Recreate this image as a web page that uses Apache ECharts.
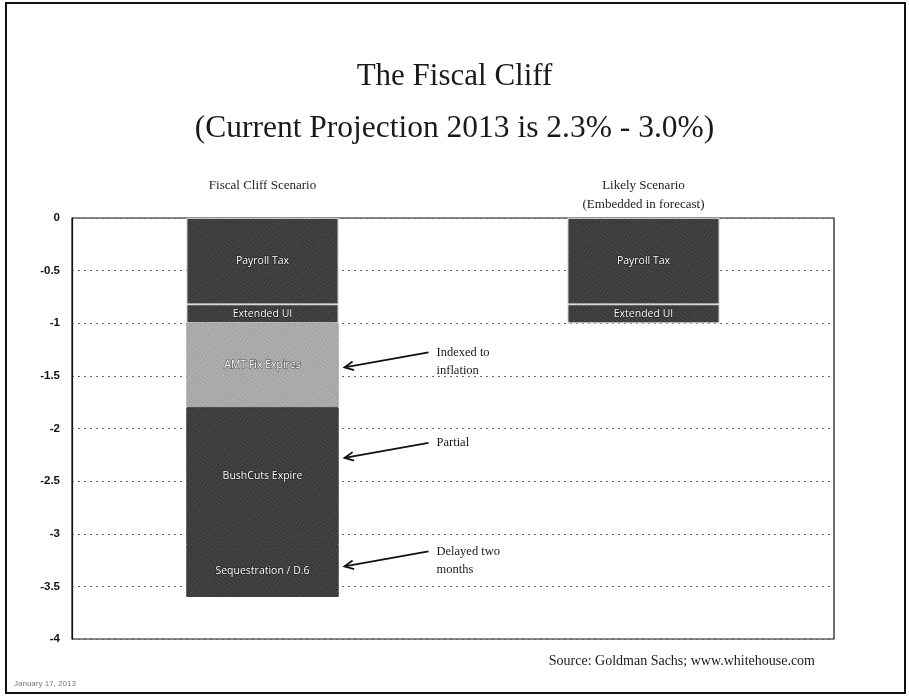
<!DOCTYPE html>
<html><head><meta charset="utf-8">
<script src="https://cdn.jsdelivr.net/npm/echarts@6/dist/echarts.min.js"></script>
<style>html,body{margin:0;padding:0;background:#fff}#c{width:909px;height:697px}</style>
</head><body><div id="c"></div>
<script>
const categories = ['Fiscal Cliff Scenario', 'Likely Scenario\n(Embedded in forecast)'];
const payrollTax = [-0.82, -0.82];
const extendedUI = [-0.18, -0.18];
const amtFix = [-0.8, null];
const bushCuts = [-1.3, null];
const sequestration = [-0.5, null];
const yTicks = [0, -0.5, -1, -1.5, -2, -2.5, -3, -3.5, -4];
const notes = ['Indexed to\ninflation', 'Partial', 'Delayed two\nmonths'];
const noteValues = [-1.42, -2.28, -3.31];

const chart = echarts.init(document.getElementById('c'));
const dark = '#3b3b3b', light = '#a6a6a6';
function seg(name, data, color, borderColor) {
  return {
    name, type: 'bar', stack: 'all', data, barWidth: 152,
    itemStyle: { color, borderColor, borderWidth: 0.8,
      decal: { symbol: 'rect', symbolSize: 1, dashArrayX: [1, 2], dashArrayY: [1, 2], rotation: 0.6,
        color: color === light ? 'rgba(255,255,255,0.35)' : 'rgba(150,150,150,0.35)' } },
    label: { show: true, position: 'inside', formatter: p => p.value == null ? '' : name,
      color: '#fff', fontFamily: 'Open Sans', fontSize: 10.5,
      textBorderColor: 'rgba(0,0,0,0.5)', textBorderWidth: 1.2 }
  };
}
chart.setOption({
  animation: false,
  aria: { enabled: false, decal: { show: true } },
  title: [
    { text: 'The Fiscal Cliff', left: 'center', top: 56,
      textStyle: { fontFamily: 'Liberation Serif', fontWeight: 'normal', fontSize: 31, color: '#1a1a1a' } },
    { text: '(Current Projection 2013 is 2.3% - 3.0%)', left: 'center', top: 108,
      textStyle: { fontFamily: 'Liberation Serif', fontWeight: 'normal', fontSize: 31.5, color: '#1a1a1a' } }
  ],
  grid: { left: 72, right: 75, top: 218, bottom: 58, show: true, borderColor: '#111', borderWidth: 1.2 },
  xAxis: {
    type: 'category', data: categories, position: 'top',
    axisLine: { show: false }, axisTick: { show: false },
    axisLabel: { margin: 42, verticalAlign: 'top', fontFamily: 'Liberation Serif', fontSize: 13, lineHeight: 19, color: '#222' }
  },
  yAxis: {
    type: 'value', min: -4, max: 0, interval: 0.5,
    axisLine: { show: true, lineStyle: { color: '#111', width: 1.2 } },
    axisTick: { show: false },
    axisLabel: { margin: 12, fontFamily: 'Liberation Sans', fontWeight: 'bold', fontSize: 11.5, color: '#111',
      formatter: v => (yTicks.indexOf(v) >= 0 ? String(v) : '') },
    splitLine: { show: true, lineStyle: { color: '#666', type: [2, 4], width: 1 } }
  },
  series: [
    seg('Payroll Tax', payrollTax, dark, 'rgba(225,225,225,0.8)'),
    seg('Extended UI', extendedUI, dark, 'rgba(225,225,225,0.8)'),
    seg('AMT Fix Expires', amtFix, light, light),
    seg('BushCuts Expire', bushCuts, dark, dark),
    seg('Sequestration / D.6', sequestration, dark, dark)
  ],
  graphic: []
});

const g = [];
g.push({ type: 'rect', shape: { x: 6, y: 3, width: 899, height: 690 }, style: { fill: 'none', stroke: '#111', lineWidth: 2 }, silent: true });
const barRight = chart.convertToPixel({ xAxisIndex: 0 }, 0) + 76;
notes.forEach((t, i) => {
  const ty = chart.convertToPixel({ yAxisIndex: 0 }, noteValues[i]);
  const tipX = barRight + 6, sx = barRight + 90, sy = ty - 15;
  g.push({ type: 'line', shape: { x1: sx, y1: sy, x2: tipX, y2: ty }, style: { stroke: '#111', lineWidth: 1.8 } });
  const ang = Math.atan2(sy - ty, sx - tipX);
  const L = 10, a = 0.45;
  g.push({ type: 'polyline', shape: { points: [
    [tipX + L * Math.cos(ang - a), ty + L * Math.sin(ang - a)], [tipX, ty],
    [tipX + L * Math.cos(ang + a), ty + L * Math.sin(ang + a)]] },
    style: { stroke: '#111', lineWidth: 1.8, fill: 'none' } });
  g.push({ type: 'text', x: sx + 8, y: sy - 9, style: { text: t, fontFamily: 'Liberation Serif', fontSize: 12.5, lineHeight: 18, fill: '#1a1a1a' } });
});
g.push({ type: 'text', right: 94, bottom: 29, style: { text: 'Source: Goldman Sachs; www.whitehouse.com', fontFamily: 'Liberation Serif', fontSize: 14, fill: '#1a1a1a' } });
g.push({ type: 'text', left: 14, bottom: 9, style: { text: 'January 17, 2013', fontFamily: 'Liberation Sans', fontSize: 8, fill: '#777' } });
chart.setOption({ graphic: g });
</script></body></html>
